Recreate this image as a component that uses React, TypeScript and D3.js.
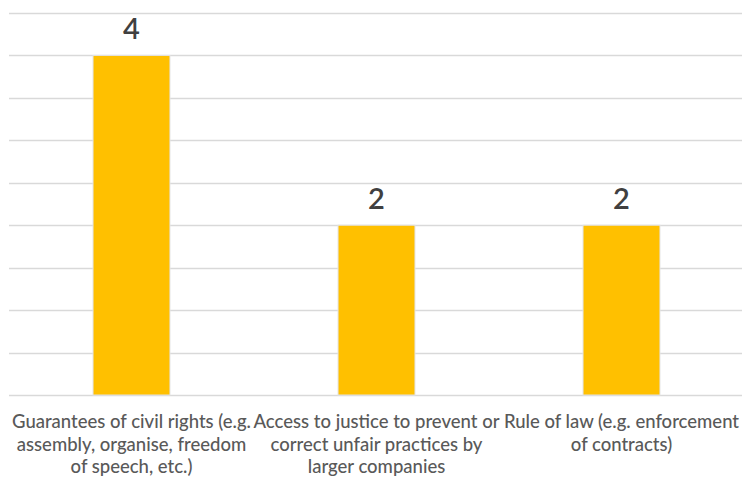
import React from "react";
import * as d3 from "d3";

const categories = [
  "Guarantees of civil rights",
  "Access to justice",
  "Rule of law",
];
const values = [4, 2, 2];
const labelLines = [
  ["Guarantees of civil rights (e.g.", "assembly, organise, freedom", "of speech, etc.)"],
  ["Access to justice to prevent or", "correct unfair practices by", "larger companies"],
  ["Rule of law (e.g. enforcement", "of contracts)"],
];
const gridTicks = [0, 0.5, 1, 1.5, 2, 2.5, 3, 3.5, 4, 4.5];

const W = 742;
const H = 479;
const left = 9;
const right = 744;
const top = 13;
const bottom = 395;

export default function App() {
  const x = d3.scaleBand<string>().domain(categories).range([left, right]).paddingInner(0.686).paddingOuter(0.343);
  const y = d3.scaleLinear().domain([0, 4.5]).range([bottom, top]);
  const font = "Lato, 'Open Sans', sans-serif";

  return (
    <svg width={W} height={H} style={{ position: "absolute", left: 0, top: 0, background: "#fff" }}>
      {gridTicks.map((t) => (
        <line key={t} x1={left} x2={W} y1={Math.round(y(t)) + 0.5} y2={Math.round(y(t)) + 0.5} stroke="#d9d9d9" strokeWidth={1.3} />
      ))}
      {categories.map((c, i) => (
        <g key={c}>
          <rect
            x={x(c)!}
            y={y(values[i])}
            width={x.bandwidth()}
            height={bottom - y(values[i])}
            fill="#ffc000"
            stroke="#e3e3e3"
            strokeWidth={1}
          />
          <text
            x={x(c)! + x.bandwidth() / 2}
            y={y(values[i]) - 16}
            textAnchor="middle"
            fontFamily={font}
            fontSize={29}
            fontWeight={600}
            fill="#404040"
          >
            {values[i]}
          </text>
          <text textAnchor="middle" fontFamily={font} fontSize={18.5} fontWeight={500} fill="#595959">
            {labelLines[i].map((l, j) => (
              <tspan key={j} x={x(c)! + x.bandwidth() / 2} y={428 + j * 22.5}>
                {l}
              </tspan>
            ))}
          </text>
        </g>
      ))}
    </svg>
  );
}
